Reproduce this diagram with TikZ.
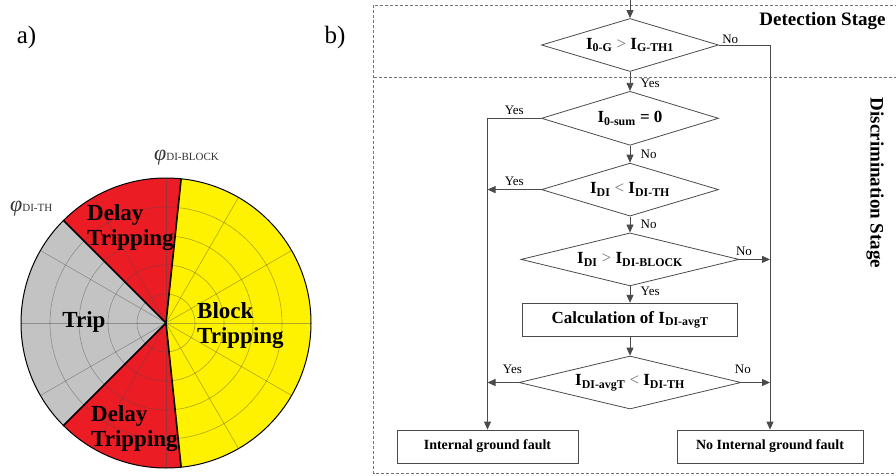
\documentclass[tikz,border=0pt]{standalone}
\usepackage{fontspec}
\setmainfont{Liberation Serif}
\usetikzlibrary{arrows.meta,positioning,shapes.geometric}
\definecolor{pieyellow}{HTML}{FFF200}
\definecolor{piered}{HTML}{EC1C24}
\definecolor{piegray}{HTML}{C3C3C3}
\definecolor{flowline}{HTML}{4A4A4A}
\newcommand{\cur}[1]{\textbf{I}\textsubscript{\textbf{#1}}}
\newcommand{\rel}[1]{\textcolor{black!55}{#1}}
\tikzset{
  decision/.style={
    diamond,
    draw=flowline,
    line width=0.8pt,
    inner sep=0pt,
    aspect=3.3,
    minimum width=177pt,
    minimum height=53pt,
    font=\fontsize{17}{20}\selectfont
  },
  procbox/.style={
    rectangle,
    draw=flowline,
    line width=0.8pt,
    minimum height=33pt,
    font=\fontsize{17}{20}\selectfont\bfseries
  },
  endbox/.style={
    procbox,
    font=\fontsize{14}{17}\selectfont\bfseries
  },
  arrow/.style={
    -{Triangle[length=8pt,width=7pt]},
    draw=flowline,
    line width=0.8pt
  },
  branch/.style={font=\fontsize{13}{15}\selectfont},
  stagebox/.style={draw=black!55, dash pattern=on 3pt off 2pt, line width=0.8pt},
  stagelabel/.style={font=\fontsize{19}{22}\selectfont\bfseries, inner sep=0pt},
  zone/.style={font=\fontsize{23}{25}\selectfont\bfseries, align=left, inner sep=0pt},
  gridline/.style={black!70, opacity=0.45, line width=0.6pt},
  border/.style={line width=1.6pt},
  angletag/.style={text=black!80, inner sep=0pt, anchor=base west}
}

\begin{document}
\begin{tikzpicture}[x=1pt, y=-1pt]
\useasboundingbox (0,0) rectangle (896,476);

\node[font=\fontsize{25}{28}\selectfont] (parta) at (26.5,37) {a)};
\node[font=\fontsize{25}{28}\selectfont] (partb) at (335,37) {b)};

% a) phase plane
\begin{scope}[shift={(166,323)}]
  \fill[pieyellow] (0,0) -- (-84:145pt) arc[start angle=-84, end angle=84, radius=145pt] -- cycle;
  \fill[piered] (0,0) -- (84:145pt) arc[start angle=84, end angle=135, radius=145pt] -- cycle;
  \fill[piegray] (0,0) -- (135:145pt) arc[start angle=135, end angle=225, radius=145pt] -- cycle;
  \fill[piered] (0,0) -- (225:145pt) arc[start angle=225, end angle=276, radius=145pt] -- cycle;
  \foreach \r in {29,58,87,116}
    \draw[gridline] (0,0) circle[radius=\r pt];
  \foreach \a in {0,30,...,330}
    \draw[gridline] (0,0) -- (\a:145pt);
  \draw[border] (0,0) -- (84:145pt);
  \draw[border] (0,0) -- (-84:145pt);
  \draw[border] (0,0) -- (135:145pt);
  \draw[border] (0,0) -- (225:145pt);
  \draw[line width=1pt] (0,0) circle[radius=145pt];
\end{scope}

\node[zone, anchor=north west] (delayup) at (87,204) {Delay\\Tripping};
\node[zone, anchor=base] (trip) at (84,327) {Trip};
\node[zone, anchor=north west] (blocktrip) at (197,302) {Block\\Tripping};
\node[zone, anchor=north west] (delaylow) at (91,405) {Delay\\Tripping};
\node[angletag] (phiblock) at (154,160) {{\fontsize{22}{22}\selectfont\itshape φ}{\fontsize{11}{11}\selectfont DI-BLOCK}};
\node[angletag] (phith) at (10,211) {{\fontsize{22}{22}\selectfont\itshape φ}{\fontsize{11}{11}\selectfont DI-TH}};

% b) flow chart
\draw[stagebox] (373.5,5.5) rectangle (898,473);
\draw[stagebox] (373.5,77.3) -- (898,77.3);
\node[stagelabel] (detect) at (822.5,21) {Detection Stage};
\node[stagelabel, rotate=-90] (discr) at (875,183) {Discrimination Stage};

\node[decision] (gth) at (630,45) {\cur{0-G} \rel{>} \cur{G-TH1}};
\node[decision, below=19pt of gth, minimum height=54pt] (sum) {\cur{0-sum} \textbf{= 0}};
\node[decision, below=17pt of sum] (dith) {\cur{DI} \rel{<} \cur{DI-TH}};
\node[decision, below=16pt of dith, minimum width=218pt] (block) {\cur{DI} \rel{>} \cur{DI-BLOCK}};
\node[procbox, below=16.5pt of block, minimum width=215pt] (avgcalc) {Calculation of \cur{DI-avgT}};
\node[decision, below=19pt of avgcalc, minimum width=222pt] (avg) {\cur{DI-avgT} \rel{<} \cur{DI-TH}};
\node[endbox, minimum width=181pt] (intf) at (487.5,446.5) {Internal ground fault};
\node[endbox, minimum width=186pt] (nointf) at (770,446.5) {No Internal ground fault};

\coordinate (entry) at (630,0);
\draw[arrow] (entry) -- (gth);
\draw[arrow] (gth) -- node[branch, right=7pt, pos=0.6] {Yes} (sum);
\draw[arrow] (sum) -- node[branch, right=7pt] {No} (dith);
\draw[arrow] (dith) -- node[branch, right=7pt] {No} (block);
\draw[arrow] (block) -- node[branch, right=7pt, pos=0.3] {Yes} (avgcalc);
\draw[arrow] (avgcalc) -- (avg);

\draw[arrow] (gth.east) node[branch, above right, inner sep=1pt, xshift=2pt] {No} -| (nointf.north);
\draw[arrow] (sum.west) -| node[branch, above, pos=0.25] {Yes} (intf.north);
\draw[arrow] (dith.west) -- node[branch, above] {Yes} (dith.west -| intf.north);
\draw[arrow] (block.east) -- node[branch, above, pos=0.15] {No} (block.east -| nointf.north);
\draw[arrow] (avg.west) -- node[branch, above=5pt, pos=0.2] {Yes} (avg.west -| intf.north);
\draw[arrow] (avg.east) -- node[branch, above=5pt, pos=0.05] {No} (avg.east -| nointf.north);
\end{tikzpicture}
\end{document}
